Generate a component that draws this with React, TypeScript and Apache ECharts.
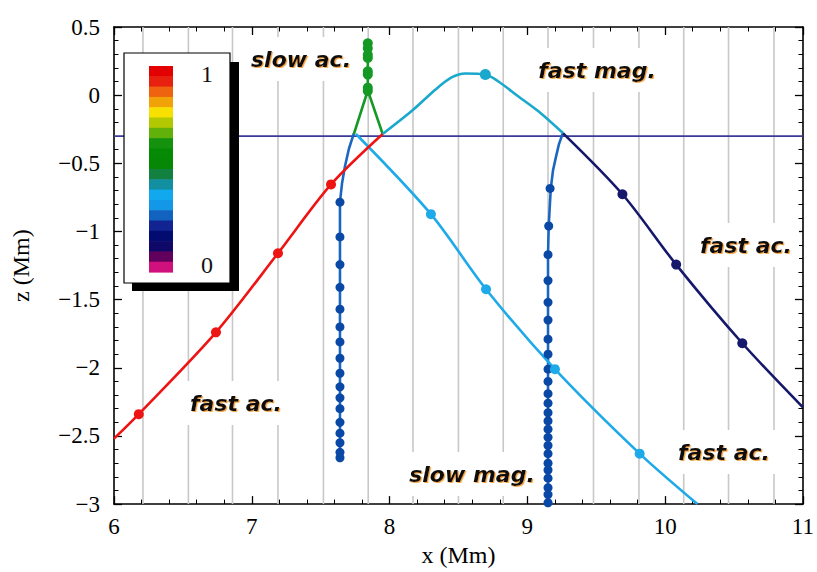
import React, { useEffect, useRef } from "react";
import * as echarts from "echarts";

// ---------- data ----------
const xTickValues = [6, 7, 8, 9, 10, 11];
const xTickLabels = ["6", "7", "8", "9", "10", "11"];
const zTickValues = [-3, -2.5, -2, -1.5, -1, -0.5, 0, 0.5];
const zTickLabels = ["\u22123", "\u22122.5", "\u22122", "\u22121.5", "\u22121", "\u22120.5", "0", "0.5"];

// vertical (grey) field lines, x positions in Mm
const fieldLineX = [6.21, 6.54, 6.86, 7.19, 7.52, 7.845, 8.17, 8.5, 8.825, 9.15, 9.48, 9.81, 10.135, 10.46, 10.79];
// horizontal line (z in Mm)
const cutoffZ = -0.3;

// fast acoustic (red, left)
const redCurve = [[6.0, -2.52], [6.18, -2.34], [6.74, -1.74], [7.19, -1.16], [7.575, -0.655], [7.95, -0.285]];
const redMarkers = [[6.18, -2.34], [6.74, -1.74], [7.19, -1.16], [7.575, -0.655]];

// slow acoustic (green)
const greenLeft = [[7.741, -0.285], [7.828, -0.01], [7.842, 0.03], [7.842, 0.381]];
const greenRight = [[7.95, -0.285], [7.857, -0.01], [7.842, 0.03]];
const greenMarkers = [[7.842, 0.03], [7.842, 0.055], [7.842, 0.151], [7.842, 0.175], [7.842, 0.273], [7.842, 0.297], [7.842, 0.345], [7.842, 0.381]];

// slow magnetic (blue, left)
const slowMagLeftCurve = [
  [7.741, -0.28], [7.705, -0.393], [7.676, -0.524], [7.655, -0.647], [7.64, -0.785], [7.64, -1.04], [7.64, -1.243],
  [7.64, -1.41], [7.64, -1.57], [7.64, -1.7], [7.64, -1.81], [7.64, -1.93], [7.64, -2.04], [7.64, -2.14],
  [7.64, -2.22], [7.64, -2.3], [7.64, -2.4], [7.64, -2.48], [7.64, -2.55], [7.64, -2.62], [7.64, -2.66],
];
const slowMagLeftMarkers = [
  [7.64, -0.785], [7.64, -1.04], [7.64, -1.243], [7.64, -1.41], [7.64, -1.57], [7.64, -1.7], [7.64, -1.81],
  [7.64, -1.93], [7.64, -2.04], [7.64, -2.14], [7.64, -2.22], [7.64, -2.3], [7.64, -2.4], [7.64, -2.48],
  [7.64, -2.55], [7.64, -2.62], [7.64, -2.66],
];

// slow magnetic (blue, right)
const slowMagRightCurve = [
  [9.259, -0.275], [9.23, -0.357], [9.208, -0.451], [9.186, -0.553], [9.17, -0.684], [9.155, -0.96], [9.15, -1.17],
  [9.15, -1.36], [9.15, -1.52], [9.15, -1.65], [9.15, -1.79], [9.15, -1.9], [9.15, -2.01], [9.15, -2.1],
  [9.15, -2.19], [9.15, -2.26], [9.15, -2.33], [9.15, -2.39], [9.15, -2.45], [9.15, -2.51], [9.15, -2.57],
  [9.15, -2.63], [9.15, -2.7], [9.15, -2.75], [9.15, -2.81], [9.15, -2.88], [9.15, -2.93], [9.15, -2.99],
];
const slowMagRightMarkers = [
  [9.165, -0.684], [9.155, -0.96], [9.15, -1.17], [9.15, -1.36], [9.15, -1.52], [9.15, -1.65], [9.15, -1.79],
  [9.15, -1.9], [9.15, -2.01], [9.15, -2.1], [9.15, -2.19], [9.15, -2.26], [9.15, -2.33], [9.15, -2.39],
  [9.15, -2.45], [9.15, -2.51], [9.15, -2.57], [9.15, -2.63], [9.15, -2.7], [9.15, -2.75], [9.15, -2.81],
  [9.15, -2.88], [9.15, -2.93], [9.15, -2.99],
];

// fast acoustic (light blue, middle)
const lightBlueCurve = [[7.756, -0.285], [8.3, -0.873], [8.7, -1.424], [9.2, -2.01], [9.815, -2.63], [10.234, -3.0]];
const lightBlueMarkers = [[8.3, -0.873], [8.7, -1.424], [9.2, -2.01], [9.815, -2.63]];

// fast magnetic (teal)
const tealCurve = [
  [7.95, -0.285], [8.16, -0.117], [8.334, 0.042], [8.45, 0.13], [8.55, 0.159], [8.695, 0.151],
  [8.79, 0.1], [8.933, -0.008], [9.078, -0.117], [9.26, -0.28],
];
const tealMarkers = [[8.695, 0.151]];

// fast acoustic (navy, right)
const navyCurve = [[9.26, -0.28], [9.69, -0.727], [10.08, -1.243], [10.56, -1.82], [11.0, -2.29]];
const navyMarkers = [[9.69, -0.727], [10.08, -1.243], [10.56, -1.82]];

// colour-bar bands, top (1) to bottom (0)
const colorBarColors = [
  "#e20000", "#e82010", "#ee6210", "#f0a208", "#f8e000", "#b2c800", "#62b00a", "#14920e", "#048a04", "#068806",
  "#12803e", "#1290a2", "#12a8ee", "#1298e6", "#1262c0", "#122492", "#020c70", "#100868", "#62005e", "#d0107c",
];

// ---------- styles ----------
const SERIF = "Liberation Serif";
const LABEL_FONT = "italic bold 22px DejaVu Sans";

const C_RED = "#ee1414";
const C_GREEN = "#149a24";
const C_SLOWMAG_LINE = "#1a66c0";
const C_SLOWMAG_MARK = "#0a48a6";
const C_LIGHTBLUE = "#1eaae8";
const C_TEAL = "#1aa8cc";
const C_NAVY = "#16186c";
const C_HLINE = "#3a3a98";
const C_GRID = "#c8c8c8";

function lineSeries(data: number[][], color: string, smooth: number | boolean = 0.3, width = 2.6, z = 5) {
  return {
    type: "line",
    data,
    smooth,
    symbol: "none",
    lineStyle: { color, width },
    itemStyle: { color },
    z,
    silent: true,
    clip: true,
  };
}
function markerSeries(data: number[][], color: string, size = 10, z = 6) {
  return {
    type: "scatter",
    data,
    symbol: "circle",
    symbolSize: size,
    itemStyle: { color, opacity: 1 },
    z,
    silent: true,
  };
}

function buildOption() {
  const axisCommon = {
    type: "value",
    axisLine: { show: true, onZero: false, lineStyle: { color: "#000", width: 1.6 } },
    axisTick: { show: true, inside: true, length: 8, lineStyle: { color: "#000", width: 1.3 } },
    minorTick: { show: true, splitNumber: 5, length: 4.5, lineStyle: { color: "#000", width: 1 } },
    splitLine: { show: false },
    minorSplitLine: { show: false },
  };

  const series: any[] = [];
  fieldLineX.forEach((x) => {
    series.push({
      type: "line",
      data: [[x, zTickValues[0]], [x, zTickValues[zTickValues.length - 1]]],
      symbol: "none",
      lineStyle: { color: C_GRID, width: 1.6 },
      z: 1,
      silent: true,
    });
  });
  series.push({
    type: "line",
    data: [[xTickValues[0], cutoffZ], [xTickValues[xTickValues.length - 1], cutoffZ]],
    symbol: "none",
    lineStyle: { color: C_HLINE, width: 1.8 },
    z: 3,
    silent: true,
  });

  series.push(lineSeries(slowMagLeftCurve, C_SLOWMAG_LINE, false));
  series.push(markerSeries(slowMagLeftMarkers, C_SLOWMAG_MARK, 9));
  series.push(lineSeries(slowMagRightCurve, C_SLOWMAG_LINE, false));
  series.push(markerSeries(slowMagRightMarkers, C_SLOWMAG_MARK, 9));
  series.push(lineSeries(lightBlueCurve, C_LIGHTBLUE));
  series.push(markerSeries(lightBlueMarkers, C_LIGHTBLUE, 10));
  series.push(lineSeries(greenLeft, C_GREEN, false));
  series.push(lineSeries(greenRight, C_GREEN, false));
  series.push(markerSeries(greenMarkers, C_GREEN, 10));
  series.push(lineSeries(tealCurve, C_TEAL));
  series.push(markerSeries(tealMarkers, C_TEAL, 11));
  series.push(lineSeries(navyCurve, C_NAVY));
  series.push(markerSeries(navyMarkers, C_NAVY, 10));
  series.push(lineSeries(redCurve, C_RED));
  series.push(markerSeries(redMarkers, C_RED, 10));

  // text annotations with white boxes (hide grey field lines)
  const labels = [
    { t: "slow ac.", x: 301, y: 59 },
    { t: "fast mag.", x: 597, y: 70 },
    { t: "fast ac.", x: 746, y: 245 },
    { t: "fast ac.", x: 236, y: 403 },
    { t: "slow mag.", x: 472, y: 474 },
    { t: "fast ac.", x: 724, y: 452 },
  ];
  const graphic: any[] = labels.map((l) => ({
    type: "text",
    x: l.x,
    y: l.y,
    z: 4,
    silent: true,
    style: {
      text: l.t,
      font: LABEL_FONT,
      fill: "#111",
      align: "center",
      verticalAlign: "middle",
      backgroundColor: "#fff",
      padding: [11, 7],
      textShadowColor: "rgba(240,150,40,0.85)",
      textShadowOffsetX: 1.2,
      textShadowOffsetY: 1,
      textShadowBlur: 1,
    },
  }));

  // colour-bar legend box
  graphic.push({ type: "rect", z: 20, silent: true, shape: { x: 132, y: 62, width: 107, height: 229 }, style: { fill: "#000" } });
  graphic.push({
    type: "rect", z: 21, silent: true,
    shape: { x: 124, y: 53, width: 106, height: 230 },
    style: { fill: "#fff", stroke: "#000", lineWidth: 1.2 },
  });
  const bandTop = 66;
  const bandH = 206 / colorBarColors.length;
  colorBarColors.forEach((c, i) => {
    graphic.push({
      type: "rect", z: 22, silent: true,
      shape: { x: 149, y: bandTop + i * bandH, width: 24, height: bandH + 0.6 },
      style: { fill: c },
    });
  });
  graphic.push({ type: "text", z: 22, silent: true, x: 207, y: 74, style: { text: "1", fontFamily: SERIF, fontSize: 24, fill: "#111", align: "center", verticalAlign: "middle" } });
  graphic.push({ type: "text", z: 22, silent: true, x: 207, y: 265, style: { text: "0", fontFamily: SERIF, fontSize: 24, fill: "#111", align: "center", verticalAlign: "middle" } });

  return {
    animation: false,
    backgroundColor: "#fff",
    grid: { left: 114, right: 11, top: 27, bottom: 63, containLabel: false },
    xAxis: [
      {
        ...axisCommon,
        position: "bottom",
        min: xTickValues[0],
        max: xTickValues[xTickValues.length - 1],
        interval: 1,
        axisLabel: {
          color: "#000",
          fontFamily: SERIF,
          fontSize: 23,
          margin: 11,
          formatter: (v: number) => {
            const i = xTickValues.findIndex((t) => Math.abs(t - v) < 1e-6);
            return i >= 0 ? xTickLabels[i] : "";
          },
        },
        name: "x (Mm)",
        nameLocation: "middle",
        nameGap: 33,
        nameTextStyle: { color: "#000", fontFamily: SERIF, fontSize: 24 },
      },
      {
        ...axisCommon,
        position: "top",
        min: xTickValues[0],
        max: xTickValues[xTickValues.length - 1],
        interval: 1,
        axisLabel: { show: false },
      },
    ],
    yAxis: [
      {
        ...axisCommon,
        position: "left",
        min: zTickValues[0],
        max: zTickValues[zTickValues.length - 1],
        interval: 0.5,
        axisLabel: {
          color: "#000",
          fontFamily: SERIF,
          fontSize: 23,
          margin: 14,
          formatter: (v: number) => {
            const i = zTickValues.findIndex((t) => Math.abs(t - v) < 1e-6);
            return i >= 0 ? zTickLabels[i] : "";
          },
        },
        name: "z (Mm)",
        nameLocation: "middle",
        nameGap: 81,
        nameTextStyle: { color: "#000", fontFamily: SERIF, fontSize: 24 },
      },
      {
        ...axisCommon,
        position: "right",
        min: zTickValues[0],
        max: zTickValues[zTickValues.length - 1],
        interval: 0.5,
        axisLabel: { show: false },
      },
    ],
    series,
    graphic,
  };
}

export default function App() {
  const ref = useRef<HTMLDivElement>(null);
  useEffect(() => {
    document.body.style.margin = "0";
    const chart = echarts.init(ref.current as HTMLDivElement, null, { renderer: "svg" });
    chart.setOption(buildOption() as any);
    return () => chart.dispose();
  }, []);
  return <div ref={ref} style={{ width: 817, height: 572 }} />;
}
